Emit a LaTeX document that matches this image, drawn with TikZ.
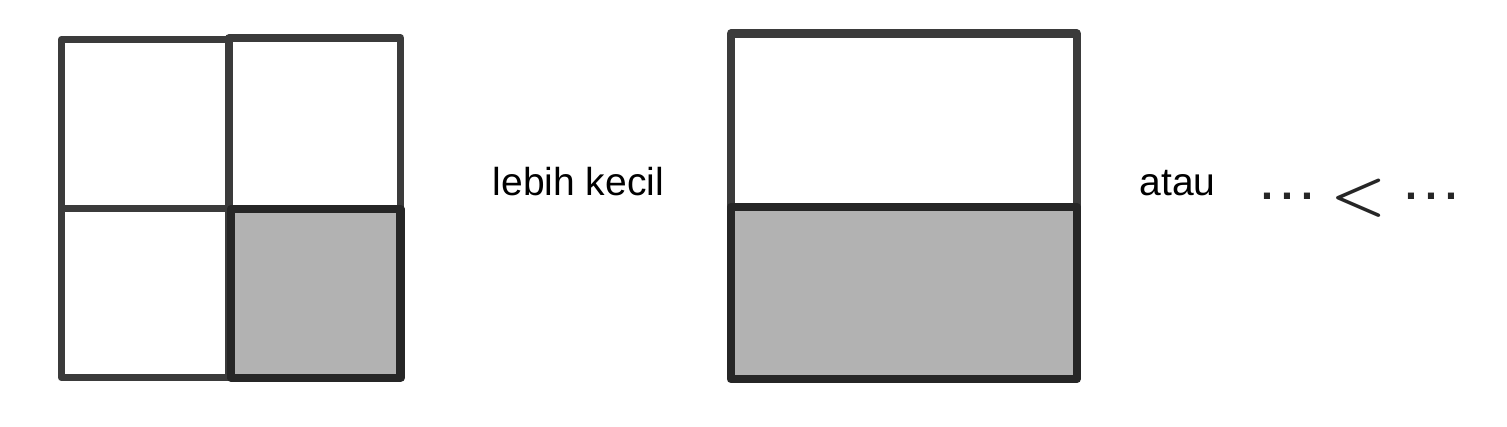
\documentclass[tikz,border=0pt]{standalone}
\usepackage{fontspec}
\setmainfont{Liberation Sans}
\begin{document}
\begin{tikzpicture}[x=1pt,y=-1pt,
  cellline/.style={draw=black!77, line width=7.5pt, line join=round},
  shadeline/.style={draw=black!85, fill=black!30, line width=8.5pt, line join=round},
  label/.style={font=\fontsize{39}{47}\selectfont, inner sep=0pt, anchor=base west, text=black},
  dotsstyle/.style={font=\fontsize{43}{50}\selectfont\bfseries, inner sep=0pt, anchor=base, text=black!85}]
\useasboundingbox[fill=white] (0,0) rectangle (1507,426);
% left 2x2 grid
\draw[cellline] (61.5,39.5) rectangle (229,208.5);
\draw[cellline] (229,38) rectangle (400.5,208.5);
\draw[cellline] (61.5,208.5) rectangle (229,377.5);
\draw[shadeline] (231,209) rectangle (400.5,377.8);
% right half rectangle
\draw[cellline, line width=8.3pt] (730.8,33.5) rectangle (1076.7,206.8);
\draw[shadeline, line width=8.3pt] (730.8,206.8) rectangle (1076.7,379);
% texts
\node[label] (lk) at (492.5,195) {lebih kecil};
\node[label] (atau) at (1139.3,195) {atau};
\node[dotsstyle] (d1) at (1287.3,199) {.\kern8pt.\kern8pt.};
\node[inner sep=0pt, anchor=base, xscale=6.3, yscale=5.7, font=\boldmath, text=black!85] (lt) at (1358.3,212.6) {$<$};
\node[dotsstyle] (d2) at (1431.7,199) {.\kern8pt.\kern8pt.};
\end{tikzpicture}
\end{document}
